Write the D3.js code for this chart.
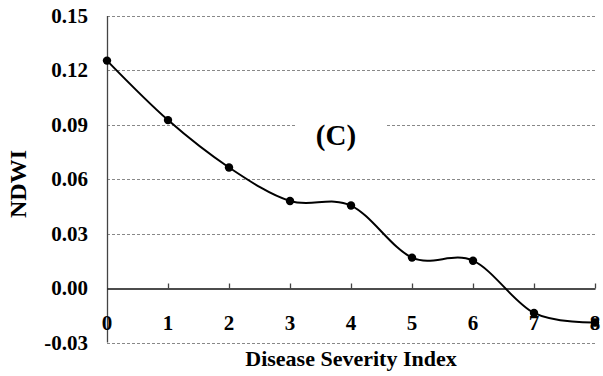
<!DOCTYPE html>
<html>
<head>
<meta charset="utf-8">
<script src="https://cdn.jsdelivr.net/npm/d3@7"></script>
<style>
  body { margin: 0; background: #fff; }
  text { font-family: "Liberation Serif", "Times New Roman", serif; font-weight: bold; }
</style>
</head>
<body>
<div id="paper"></div>
<script>
// disease severity index vs NDWI, panel (C)
const dsi = [0, 1, 2, 3, 4, 5, 6, 7, 8];
const ndwi = [0.1254, 0.0926, 0.0665, 0.0480, 0.0455, 0.0168, 0.0151, -0.0137, -0.0190];
const yTicks = [-0.03, 0.00, 0.03, 0.06, 0.09, 0.12, 0.15];
const xTicks = [0, 1, 2, 3, 4, 5, 6, 7, 8];

const width = 603, height = 376;

const svg = d3.select("#paper").append("svg")
  .attr("width", width)
  .attr("height", height);

const x = d3.scaleLinear().domain([0, 8]).range([107, 595]);
const y = d3.scaleLinear().domain([-0.03, 0.15]).range([342.5, 16]);

// hyphen instead of the unicode minus d3 uses
const fmt = d => d3.format(".2f")(d).replace("\u2212", "-");

// dashed gridlines (0.00 is the x axis itself)
svg.append("g")
  .selectAll("line")
  .data(yTicks.filter(d => d != 0))
  .join("line")
  .attr("x1", x(0))
  .attr("x2", 597)
  .attr("y1", d => Math.round(y(d)) + 0.5)
  .attr("y2", d => Math.round(y(d)) + 0.5)
  .attr("stroke", "#888")
  .attr("stroke-width", 1)
  .attr("stroke-dasharray", "3,2");

// panel label, sits on a white box that hides part of a gridline
svg.append("rect")
  .attr("x", 295).attr("y", 118)
  .attr("width", 91).attr("height", 36)
  .attr("fill", "#fff");
svg.append("text")
  .attr("x", 336)
  .attr("y", 145)
  .attr("text-anchor", "middle")
  .attr("font-size", 29)
  .text("(C)");

// y axis: plain line, labels on the left
svg.append("line")
  .attr("x1", x(0) + 0.5).attr("x2", x(0) + 0.5)
  .attr("y1", y(0.15)).attr("y2", y(-0.03))
  .attr("stroke", "#444")
  .attr("stroke-width", 1.3);

svg.append("g")
  .selectAll("text")
  .data(yTicks)
  .join("text")
  .attr("x", 88)
  .attr("y", d => y(d) + 7)
  .attr("text-anchor", "end")
  .attr("font-size", 21)
  .text(fmt);

// x axis along zero, ticks point up
const xAxis = d3.axisTop(x)
  .tickValues(xTicks.filter(d => d != 0))
  .tickSize(5)
  .tickSizeOuter(0)
  .tickFormat("");

const gx = svg.append("g")
  .attr("transform", `translate(0,${Math.round(y(0)) + 0.5})`)
  .call(xAxis);
gx.select(".domain").attr("stroke", "#111").attr("stroke-width", 1.5);
gx.selectAll(".tick line").attr("stroke", "#444").attr("stroke-width", 1.3);

svg.append("g")
  .selectAll("text")
  .data(xTicks)
  .join("text")
  .attr("x", d => x(d))
  .attr("y", 330)
  .attr("text-anchor", "middle")
  .attr("font-size", 21)
  .text(d => d);

// smoothed line like the spreadsheet one
const line = d3.line()
  .x((d, i) => x(dsi[i]))
  .y(d => y(d))
  .curve(d3.curveCardinal.tension(0));

svg.append("path")
  .datum(ndwi)
  .attr("fill", "none")
  .attr("stroke", "#000")
  .attr("stroke-width", 2)
  .attr("d", line);

svg.append("g")
  .selectAll("circle")
  .data(ndwi)
  .join("circle")
  .attr("cx", (d, i) => x(dsi[i]))
  .attr("cy", d => y(d))
  .attr("r", 4.2)
  .attr("fill", "#000");

// axis titles
svg.append("text")
  .attr("x", 351)
  .attr("y", 366)
  .attr("text-anchor", "middle")
  .attr("font-size", 22)
  .text("Disease Severity Index");

svg.append("text")
  .attr("transform", "translate(26,184) rotate(-90)")
  .attr("text-anchor", "middle")
  .attr("font-size", 24)
  .text("NDWI");
</script>
</body>
</html>
